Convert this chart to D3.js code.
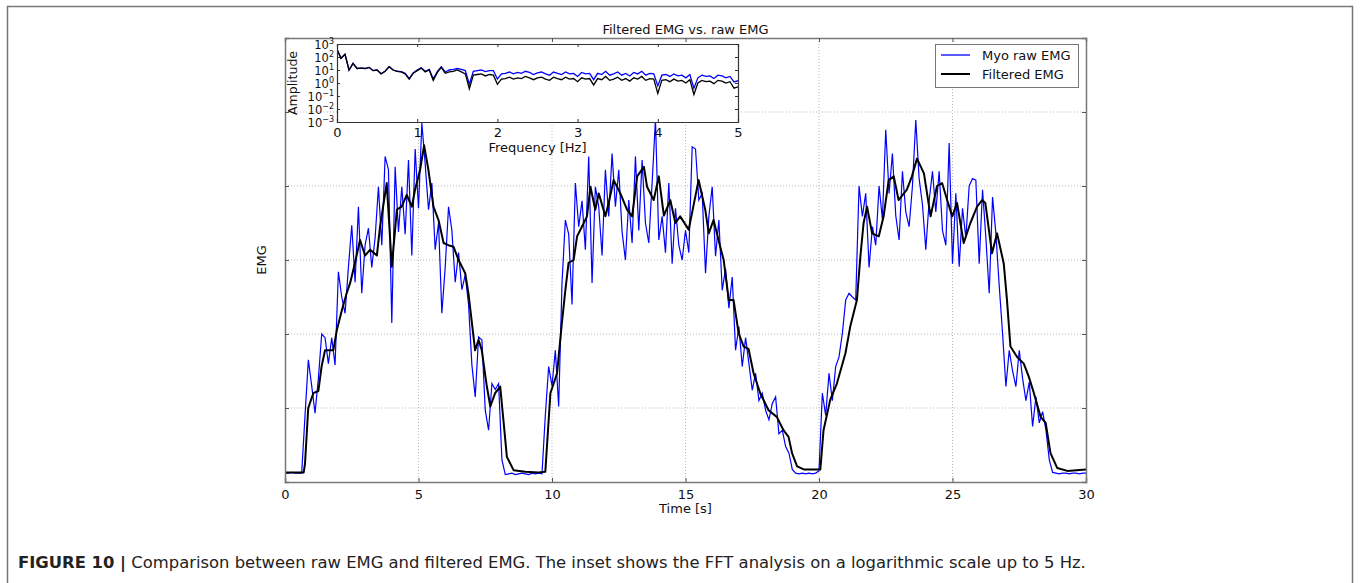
<!DOCTYPE html>
<html><head><meta charset="utf-8">
<script src="https://cdn.jsdelivr.net/npm/d3@7"></script>
<style>
body{margin:0;background:#fff;}
svg text{font-family:"DejaVu Sans",sans-serif;}
</style></head>
<body><svg id="c" width="1360" height="583"></svg>
<script>
// ---------- data ----------
const titleText = "Filtered EMG vs. raw EMG";
const xTicks = [0, 5, 10, 15, 20, 25, 30];
const yGrid = [1, 2, 3, 4, 5];
const seriesNames = ["Myo raw EMG", "Filtered EMG"];
// raw EMG sampled every 0.125 s (t = 0 .. 30)
const rawStep = 0.125;
const rawValues = [
0.12,0.12,0.13,0.12,0.12,0.12,0.9,1.65,1.3,0.93,
1.4,2.0,1.95,1.6,1.95,1.58,2.84,2.5,2.28,2.9,
3.47,2.7,3.72,2.55,3.2,3.43,2.9,3.3,3.99,3.2,
4.4,4.22,2.15,4.26,3.38,3.99,3.35,4.35,3.06,4.5,
3.7,4.85,4.3,3.68,4.04,3.14,3.5,2.28,2.9,3.72,
3.4,2.7,3.1,2.6,2.8,2.4,1.58,1.15,1.96,1.92,
0.97,0.7,1.33,1.25,1.33,0.3,0.1,0.11,0.12,0.1,
0.11,0.12,0.11,0.1,0.12,0.11,0.12,0.11,0.9,1.56,
1.3,1.78,1.02,2.69,3.54,3.35,2.4,4.04,3.45,3.8,
3.14,4.4,2.69,3.99,3.72,3.06,4.22,3.59,4.44,3.72,
4.22,3.38,3.0,3.81,3.23,4.4,3.4,4.35,3.5,3.23,
4.04,4.9,3.27,3.59,3.1,4.04,2.95,3.7,3.2,3.0,
3.4,3.1,4.53,4.5,3.81,3.9,2.82,3.59,3.99,3.05,
3.54,2.59,2.88,2.35,2.77,1.78,2.1,1.56,1.95,1.6,
1.24,1.47,1.1,1.2,0.97,0.84,1.06,1.15,0.65,0.7,
0.48,0.39,0.17,0.12,0.11,0.12,0.11,0.12,0.11,0.12,
0.15,1.2,0.9,1.47,1.1,1.56,1.69,2.01,2.46,2.55,
2.5,2.46,4.0,3.59,3.9,2.9,3.45,3.2,4.0,3.55,
4.76,3.9,4.44,3.6,3.27,4.2,3.65,3.45,4.0,4.89,
4.1,3.75,3.14,3.8,4.2,3.65,4.2,3.4,3.2,4.58,
2.95,3.9,2.91,3.7,3.3,4.0,4.1,4.08,2.95,3.95,
3.3,2.55,3.85,3.36,2.65,2.01,1.29,1.78,1.5,1.29,
1.78,1.4,1.1,1.35,0.75,1.15,0.8,0.95,0.7,0.3,
0.13,0.12,0.11,0.12,0.12,0.11,0.12,0.12,0.11,0.12,
0.12
];
// filtered EMG (time in s, value)
const filtTime = [0,0.7,0.75,0.87,1.06,1.25,1.37,1.5,1.81,1.94,2.13,2.31,2.44,2.62,2.81,3.0,3.19,3.44,3.56,3.81,4.0,4.19,4.37,4.56,4.75,4.87,5.06,5.21,5.37,5.56,5.75,5.94,6.12,6.31,6.5,6.75,6.87,7.0,7.12,7.25,7.37,7.56,7.69,7.87,8.06,8.19,8.31,8.56,9.0,9.5,9.75,9.94,10.19,10.37,10.5,10.62,10.81,10.94,11.12,11.31,11.44,11.62,11.75,12.0,12.12,12.31,12.56,12.81,13.0,13.19,13.44,13.56,13.81,14.0,14.19,14.43,14.62,14.8,15.12,15.49,15.74,15.87,16.05,16.3,16.43,16.62,16.8,16.99,17.18,17.36,17.55,17.8,18.11,18.42,18.67,18.86,18.99,19.18,19.43,20.05,20.17,20.42,20.67,20.99,21.17,21.42,21.55,21.67,21.8,21.99,22.24,22.42,22.61,22.8,22.98,23.29,23.48,23.67,23.93,24.18,24.42,24.61,24.8,24.99,25.17,25.42,25.67,25.92,26.11,26.23,26.48,26.67,26.92,27.04,27.17,27.42,27.67,27.86,28.05,28.3,28.49,28.67,28.92,29.3,30.0];
const filtValues = [0.13,0.13,0.25,1.0,1.2,1.23,1.56,1.78,1.78,2.05,2.32,2.55,2.69,2.96,3.27,3.06,3.14,3.06,3.45,4.04,2.91,3.68,3.72,3.88,3.72,3.95,4.22,4.55,4.22,3.72,3.54,3.23,3.2,3.18,3.0,2.82,2.55,2.15,1.78,1.92,1.78,1.29,1.02,1.2,1.29,0.8,0.34,0.16,0.14,0.13,0.14,1.2,1.47,2.15,2.59,2.96,3.0,3.32,3.45,3.59,3.99,3.68,3.9,3.59,3.77,4.08,3.9,3.68,3.59,4.13,4.26,3.99,3.81,4.13,3.6,3.81,3.5,3.59,3.41,4.08,3.68,3.36,3.54,3.18,3.0,2.46,2.46,2.01,1.83,1.8,1.47,1.2,0.97,0.88,0.7,0.61,0.39,0.21,0.17,0.17,0.7,1.11,1.33,1.74,2.1,2.46,3.05,3.5,3.72,3.36,3.32,3.59,4.08,4.13,3.81,3.95,4.13,4.37,4.17,3.59,4.0,4.04,3.81,3.59,3.77,3.23,3.5,3.72,3.81,3.77,3.09,3.36,2.95,2.46,1.83,1.69,1.6,1.42,1.2,0.88,0.8,0.39,0.19,0.15,0.17];
// inset FFT: frequency step 0.05 Hz, 0..5 Hz
const fftStep = 0.05;
const fftXTicks = [0, 1, 2, 3, 4, 5];
const fftYExp = [3, 2, 1, 0, -1, -2, -3];
const fftRaw = [400,79,160,10,32,13,14,13,16,9.0,
10,5.2,8.0,18,10,8.0,7.5,5.5,2.2,6.0,
10,15,8.0,11,2.0,7.5,18,7.0,10,11,
13,11,9.0,0.8,8.0,9.0,10,7.5,9.0,9.0,
2.0,5.0,5.5,7.0,5.0,6.5,5.5,8.0,6.5,4.5,
6.0,7.0,5.0,4.0,7.0,5.5,4.5,7.0,5.0,5.5,
3.2,6.5,5.0,5.5,1.8,5.5,4.5,8.0,4.0,5.0,
7.0,4.0,5.5,3.5,6.5,5.0,8.0,4.0,5.5,5.0,
0.6,4.0,4.5,3.2,5.0,3.5,4.0,2.5,4.5,0.4,
2.5,4.0,3.2,3.5,2.2,4.0,3.5,2.5,3.2,1.2,1.5];
const fftFilt = [400,79,160,10,32,13,14,13,16,8.9,
10,5.0,7.9,18,10,7.9,7.1,5.0,2.0,5.6,
8.9,14,7.1,10,1.6,6.3,16,5.6,7.1,7.9,
10,7.1,5.0,0.35,4.0,4.5,5.0,3.5,4.5,4.0,
0.79,2.0,2.2,2.8,2.0,2.5,2.2,3.2,2.5,1.8,
2.5,2.8,2.0,1.6,2.8,2.2,1.8,2.8,2.0,2.2,
1.26,2.5,2.0,2.2,0.71,2.2,1.8,3.2,1.6,2.0,
2.8,1.6,2.2,1.4,2.5,2.0,3.2,1.6,2.2,2.0,
0.16,1.6,1.8,1.26,2.0,1.4,1.6,1.0,1.8,0.13,
1.0,1.6,1.26,1.4,0.89,1.6,1.4,1.0,1.26,0.4,0.5];
const captionBold = "FIGURE 10 |";
const captionText = " Comparison between raw EMG and filtered EMG. The inset shows the FFT analysis on a logarithmic scale up to 5 Hz.";

// ---------- drawing ----------
const svg = d3.select("#c");
svg.append("rect").attr("width",1360).attr("height",583).attr("fill","#fff");
svg.append("rect").attr("x",7.5).attr("y",6.5).attr("width",1345).attr("height",600)
  .attr("fill","none").attr("stroke","#777").attr("stroke-width",1.5);

const L=285, R=1086, T=38, B=482;
const x = d3.scaleLinear().domain([0,30]).range([L,R]);
const y = d3.scaleLinear().domain([0,6]).range([B,T]);

const grid = svg.append("g").attr("stroke","#aaa").attr("stroke-width",0.8).attr("stroke-dasharray","1,2");
grid.selectAll(".vx").data(xTicks.slice(1,-1)).join("line")
  .attr("x1",d=>x(d)).attr("x2",d=>x(d)).attr("y1",T).attr("y2",B);
grid.selectAll(".hy").data(yGrid).join("line")
  .attr("y1",d=>y(d)).attr("y2",d=>y(d)).attr("x1",L).attr("x2",R);

svg.append("clipPath").attr("id","clipMain").append("rect")
  .attr("x",L).attr("y",T).attr("width",R-L).attr("height",B-T);
const rawData = rawValues.map((v,i)=>[i*rawStep, v]);
const filtData = filtTime.map((t,i)=>[t, filtValues[i]]);
const plot = svg.append("g").attr("clip-path","url(#clipMain)");
plot.append("path").datum(rawData)
  .attr("d", d3.line().x(d=>x(d[0])).y(d=>y(d[1])))
  .attr("fill","none").attr("stroke","#0000ff").attr("stroke-width",1.2).attr("stroke-linejoin","miter");
plot.append("path").datum(filtData)
  .attr("d", d3.line().x(d=>x(d[0])).y(d=>y(d[1])))
  .attr("fill","none").attr("stroke","#000").attr("stroke-width",2).attr("stroke-linejoin","round");

const axB = svg.append("g").attr("transform",`translate(0,${B})`)
  .call(d3.axisBottom(x).tickValues(xTicks).tickSize(-4).tickPadding(8).tickFormat(d3.format("d")));
const axT = svg.append("g").attr("transform",`translate(0,${T})`)
  .call(d3.axisTop(x).tickValues(xTicks).tickSize(-4).tickFormat(""));
const axLft = svg.append("g").attr("transform",`translate(${L},0)`)
  .call(d3.axisLeft(y).tickValues(yGrid).tickSize(-4).tickFormat(""));
const axRt = svg.append("g").attr("transform",`translate(${R},0)`)
  .call(d3.axisRight(y).tickValues(yGrid).tickSize(-4).tickFormat(""));
[axB,axT,axLft,axRt].forEach(a=>{
  a.select(".domain").attr("stroke","#777").attr("stroke-width",1.5);
  a.selectAll(".tick line").attr("stroke","#555");
  a.selectAll("text").attr("font-size",13).attr("fill","#111").attr("font-family","DejaVu Sans");
});

svg.append("text").attr("x",(L+R)/2).attr("y",34).attr("text-anchor","middle")
  .attr("font-size",13).attr("fill","#111").text(titleText);
svg.append("text").attr("x",(L+R)/2).attr("y",513).attr("text-anchor","middle")
  .attr("font-size",13).attr("fill","#111").text("Time [s]");
svg.append("text").attr("transform",`translate(266,${(T+B)/2}) rotate(-90)`).attr("text-anchor","middle")
  .attr("font-size",13).attr("fill","#111").text("EMG");

const lg = svg.append("g");
lg.append("rect").attr("x",935.5).attr("y",44.5).attr("width",143).attr("height",43)
  .attr("fill","#fff").attr("stroke","#777").attr("stroke-width",1);
const lgColors = ["#0000ff","#000"];
const lgW = [1.3, 2];
seriesNames.forEach((n,i)=>{
  const yy = 55 + i*19;
  lg.append("line").attr("x1",941).attr("x2",970).attr("y1",yy).attr("y2",yy)
    .attr("stroke",lgColors[i]).attr("stroke-width",lgW[i]);
  lg.append("text").attr("x",982).attr("y",yy+5).attr("font-size",13).attr("fill","#111").text(n);
});

// ---------- inset ----------
const iL=337, iR=738, iT=44, iB=122;
const fx = d3.scaleLinear().domain([0,5]).range([iL,iR]);
const fy = d3.scaleLog().domain([1e-3,1e3]).range([iB,iT]);
svg.append("rect").attr("x",iL).attr("y",iT).attr("width",iR-iL).attr("height",iB-iT).attr("fill","#fff");
svg.append("clipPath").attr("id","clipIn").append("rect").attr("x",iL).attr("y",iT).attr("width",iR-iL).attr("height",iB-iT);
const ig = svg.append("g").attr("clip-path","url(#clipIn)");
const fl = d3.line().x(d=>fx(d[0])).y(d=>fy(d[1]));
ig.append("path").datum(fftRaw.map((v,i)=>[i*fftStep,v])).attr("d",fl)
  .attr("fill","none").attr("stroke","#0000ff").attr("stroke-width",1.3);
ig.append("path").datum(fftFilt.map((v,i)=>[i*fftStep,v])).attr("d",fl)
  .attr("fill","none").attr("stroke","#000").attr("stroke-width",1.3);
const iaB = svg.append("g").attr("transform",`translate(0,${iB})`)
  .call(d3.axisBottom(fx).tickValues(fftXTicks).tickSize(-3).tickPadding(6).tickFormat(d3.format("d")));
const iaT = svg.append("g").attr("transform",`translate(0,${iT})`)
  .call(d3.axisTop(fx).tickValues(fftXTicks).tickSize(-3).tickFormat(""));
const iaL = svg.append("g").attr("transform",`translate(${iL},0)`)
  .call(d3.axisLeft(fy).tickValues(fftYExp.map(e=>Math.pow(10,e))).tickSize(-3).tickFormat(""));
const iaR = svg.append("g").attr("transform",`translate(${iR},0)`)
  .call(d3.axisRight(fy).tickValues(fftYExp.map(e=>Math.pow(10,e))).tickSize(-3).tickFormat(""));
[iaB,iaT,iaL,iaR].forEach(a=>{
  a.select(".domain").attr("stroke","#333").attr("stroke-width",1.2);
  a.selectAll(".tick line").attr("stroke","#333");
  a.selectAll("text").attr("font-size",13).attr("fill","#111").attr("font-family","DejaVu Sans");
});
const yl = svg.append("g");
fftYExp.forEach(e=>{
  const t = yl.append("text").attr("x",iL-3).attr("y",fy(Math.pow(10,e))+4.5)
    .attr("text-anchor","end").attr("font-size",11.5).attr("fill","#111");
  t.append("tspan").text("10");
  t.append("tspan").attr("dy",-5).attr("font-size",8).text(String(e).replace("-","\u2212"));
});
svg.append("text").attr("transform",`translate(297,${(iT+iB)/2}) rotate(-90)`).attr("text-anchor","middle")
  .attr("font-size",12.5).attr("fill","#111").text("Amplitude");
svg.append("text").attr("x",(iL+iR)/2).attr("y",152).attr("text-anchor","middle")
  .attr("font-size",13).attr("fill","#111").text("Frequency [Hz]");

// caption
const cap = svg.append("text").attr("x",18).attr("y",568).attr("font-size",16.4)
  .attr("font-family","Liberation Sans, Arial, sans-serif").attr("fill","#222");
cap.append("tspan").attr("font-weight","bold").text(captionBold);
cap.append("tspan").text(captionText);
</script></body></html>
